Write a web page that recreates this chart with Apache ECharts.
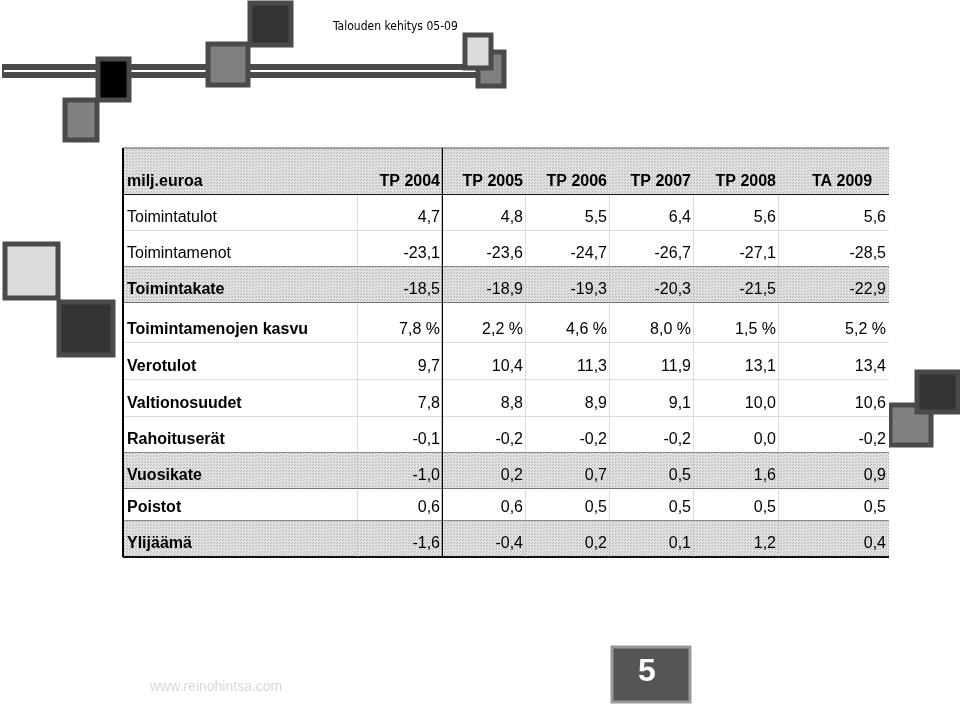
<!DOCTYPE html><html><head><meta charset="utf-8">
<script src="https://cdn.jsdelivr.net/npm/echarts@6/dist/echarts.min.js"></script>
<style>html,body{margin:0;background:#fff}#c{width:960px;height:706px}</style></head><body><div id="c"></div>
<script>
var headers=['milj.euroa','TP 2004','TP 2005','TP 2006','TP 2007','TP 2008','TA 2009'];
var rowLabels=['Toimintatulot','Toimintamenot','Toimintakate','Toimintamenojen kasvu','Verotulot','Valtionosuudet','Rahoituserät','Vuosikate','Poistot','Ylijäämä'];
var values=[
 ['4,7','4,8','5,5','6,4','5,6','5,6'],
 ['-23,1','-23,6','-24,7','-26,7','-27,1','-28,5'],
 ['-18,5','-18,9','-19,3','-20,3','-21,5','-22,9'],
 ['7,8 %','2,2 %','4,6 %','8,0 %','1,5 %','5,2 %'],
 ['9,7','10,4','11,3','11,9','13,1','13,4'],
 ['7,8','8,8','8,9','9,1','10,0','10,6'],
 ['-0,1','-0,2','-0,2','-0,2','0,0','-0,2'],
 ['-1,0','0,2','0,7','0,5','1,6','0,9'],
 ['0,6','0,6','0,5','0,5','0,5','0,5'],
 ['-1,6','-0,4','0,2','0,1','1,2','0,4']];
var shadedRows=[2,7,9];
var plainRows=[0,1];
// layout (column edges in axis units)
var colEdges=[0,235,320,403,487,571,656,766];
var rowEdges=[0,47,83,119,155,195,232,269,305,341,373,409];
var cells=[];
headers.forEach(function(h,c){cells.push([c,0,h,1,1]);});
rowLabels.forEach(function(l,r){
  var sh=shadedRows.indexOf(r)>=0?1:0, b=plainRows.indexOf(r)>=0?0:1;
  cells.push([0,r+1,l,sh,b]);
  values[r].forEach(function(v,c){cells.push([c+1,r+1,v,sh,0]);});
});
var pat=document.createElement('canvas');pat.width=3;pat.height=3;var pc=pat.getContext('2d');
pc.fillStyle='#e2e2e2';pc.fillRect(0,0,3,3);pc.fillStyle='#b4b4b4';pc.fillRect(0,0,1,1);pc.fillRect(1,2,1,1);
var chart=echarts.init(document.getElementById('c'));
function sq(x,y,w,h,f){return {type:'rect',shape:{x:x,y:y,width:w,height:h},style:{fill:f,stroke:'#4a4a4a',lineWidth:5}};}
chart.setOption({
 animation:false,
 grid:{left:123,top:148,width:766,height:409},
 xAxis:{type:'value',min:0,max:766,show:false},
 yAxis:{type:'value',min:0,max:409,inverse:true,show:false},
 graphic:[
  {type:'rect',shape:{x:2,y:64,width:503,height:14},style:{fill:'#4a4a4a'}},
  {type:'rect',shape:{x:4,y:70,width:499,height:2},style:{fill:'#fff'}},
  sq(250,3,41,42,'#333'),sq(208,44,40,41,'#808080'),sq(98,59,31,41,'#000'),sq(65,100,32,40,'#808080'),
  sq(478,52,26,34,'#808080'),sq(465,35,26,33,'#dcdcdc'),
  sq(5,244,53,54,'#dcdcdc'),sq(59,302,54,53,'#333'),
  sq(890,405,41,40,'#808080'),sq(917,372,41,40,'#333'),
  {type:'text',left:333,top:21,style:{text:'Talouden kehitys 05-09',font:'12px "Liberation Sans Narrow", "DejaVu Sans Condensed", sans-serif',fill:'#000'}},
  {type:'rect',shape:{x:612,y:647,width:78,height:55},style:{fill:'#555',stroke:'#999',lineWidth:3}},
  {type:'text',left:638,top:656,style:{text:'5',font:'bold 32px "Liberation Sans", sans-serif',fill:'#fff'}},
  {type:'text',left:150,top:680,style:{text:'www.reinohintsa.com',font:'14px "Liberation Sans", sans-serif',fill:'#d8d8d8'}}
 ],
 series:[{type:'custom',data:cells,renderItem:function(p,api){
   var c=api.value(0),r=api.value(1),txt=cells[p.dataIndex][2],sh=api.value(3),b=api.value(4);
   var p0=api.coord([colEdges[c],rowEdges[r]]),p1=api.coord([colEdges[c+1],rowEdges[r+1]]);
   var w=p1[0]-p0[0],h=p1[1]-p0[1];
   var ch=[];
   ch.push({type:'rect',shape:{x:p0[0],y:p0[1],width:w,height:h},style:{fill:sh?{image:pat,repeat:'repeat'}:'#fff'}});
   ch.push({type:'line',shape:{x1:p0[0],y1:p1[1],x2:p1[0],y2:p1[1]},style:{stroke:(r==0||sh||shadedRows.indexOf(r)>=0||r==10)?'#111':'#bbb',lineWidth:r==0||r==10?2:1}});
   if(r==0)ch.push({type:'line',shape:{x1:p0[0],y1:p0[1],x2:p1[0],y2:p0[1]},style:{stroke:'#555',lineWidth:1}});
   if(c==1)ch.push({type:'line',shape:{x1:p1[0],y1:p0[1],x2:p1[0],y2:p1[1]},style:{stroke:'#000',lineWidth:2.5}});
   else if(c<6&&r>0)ch.push({type:'line',shape:{x1:p1[0],y1:p0[1],x2:p1[0],y2:p1[1]},style:{stroke:'#bbb',lineWidth:1}});
   if(c==0)ch.push({type:'line',shape:{x1:p0[0],y1:p0[1],x2:p0[0],y2:p1[1]},style:{stroke:'#000',lineWidth:2}});
   var right=c>0, center=(c==6&&r==0);
   ch.push({type:'text',style:{text:txt,x:center?(p0[0]+p1[0])/2+8:(right?p1[0]-3:p0[0]+4),y:p1[1]-5,
     align:center?'center':(right?'right':'left'),verticalAlign:'bottom',fill:'#000',
     font:(b?'bold ':'')+'16px "Liberation Sans", Arial, sans-serif'}});
   return {type:'group',children:ch};
 }}]
});
</script></body></html>
